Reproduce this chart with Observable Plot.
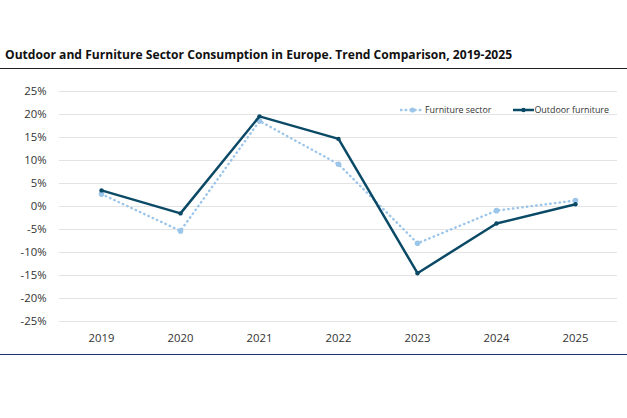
<!DOCTYPE html>
<html>
<head>
<meta charset="utf-8">
<script src="https://cdn.jsdelivr.net/npm/d3@7"></script>
<script src="https://cdn.jsdelivr.net/npm/@observablehq/plot@0.6"></script>
<style>
  html, body { margin: 0; padding: 0; background: #fff; }
  #wrap { position: relative; width: 627px; height: 418px; font-family: "Open Sans", sans-serif; overflow: hidden; }
  #title { position: absolute; left: 5px; top: 46px; font-size: 12.1px; font-weight: 700; color: #111; white-space: nowrap; }
  #rule-top { position: absolute; left: 0; top: 67.5px; width: 627px; height: 1.5px; background: #222; }
  #rule-bot { position: absolute; left: 0; top: 353.5px; width: 627px; height: 1.5px; background: #1a3270; }
  #chart { position: absolute; left: 0; top: 0; }
  #legend { position: absolute; top: 103px; left: 399px; font-size: 8.9px; color: #333; display: flex; align-items: center; white-space: nowrap; }
  #legend span.item { display: inline-flex; align-items: center; }
  #legend svg { display: block; }
</style>
</head>
<body>
<div id="wrap">
  <div id="chart"></div>
  <div id="title">Outdoor and Furniture Sector Consumption in Europe. Trend Comparison, 2019-2025</div>
  <div id="rule-top"></div>
  <div id="rule-bot"></div>
  <div id="legend">
    <span class="item"><svg width="26" height="10"><line x1="2" y1="5" x2="25" y2="5" stroke="#9cc5ea" stroke-width="2.4" stroke-linecap="round" stroke-dasharray="0.5 4.2"/><circle cx="13.5" cy="5" r="2.6" fill="#9cc5ea"/></svg>Furniture sector</span>
    <span class="item" style="margin-left:22px"><svg width="21" height="10"><line x1="0" y1="5" x2="21" y2="5" stroke="#0b4a66" stroke-width="2.5"/><circle cx="10.5" cy="5" r="2.2" fill="#0b4a66"/></svg>Outdoor furniture</span>
  </div>
</div>
<script>
const years = ["2019", "2020", "2021", "2022", "2023", "2024", "2025"];
const furnitureSector = [2.7, -5.3, 18.6, 9.2, -8.0, -0.9, 1.3];
const outdoorFurniture = [3.5, -1.5, 19.6, 14.7, -14.5, -3.7, 0.5];
const yTicks = [-25, -20, -15, -10, -5, 0, 5, 10, 15, 20, 25];

const furn = years.map((y, i) => ({year: y, value: furnitureSector[i]}));
const outd = years.map((y, i) => ({year: y, value: outdoorFurniture[i]}));

const furnColor = "#9cc5ea";
const outColor = "#0b4a66";

const chart = Plot.plot({
  width: 627,
  height: 418,
  marginTop: 91,
  marginBottom: 97,
  marginLeft: 59,
  marginRight: 10,
  style: {fontFamily: "Open Sans, sans-serif", fontSize: "11px", color: "#333", background: "transparent"},
  x: {type: "point", domain: years, padding: 0.5, label: null},
  y: {domain: [-25, 25], label: null},
  marks: [
    Plot.gridY(yTicks, {stroke: "#e3e3e3", strokeOpacity: 1, strokeWidth: 1}),
    Plot.axisY(yTicks, {tickSize: 0, tickPadding: 13, tickFormat: d => d + "%", fontSize: 11.3, fill: "#333"}),
    Plot.axisX(years, {tickSize: 0, tickPadding: 12, fontSize: 11.3, fill: "#333"}),
    Plot.line(furn, {x: "year", y: "value", stroke: furnColor, strokeWidth: 2.4, strokeDasharray: "0.5 4.2", strokeLinecap: "round"}),
    Plot.dot(furn, {x: "year", y: "value", r: 2.8, fill: furnColor, stroke: "none"}),
    Plot.line(outd, {x: "year", y: "value", stroke: outColor, strokeWidth: 2.5}),
    Plot.dot(outd, {x: "year", y: "value", r: 2.2, fill: outColor, stroke: "none"})
  ]
});
document.getElementById("chart").appendChild(chart);
</script>
</body>
</html>
